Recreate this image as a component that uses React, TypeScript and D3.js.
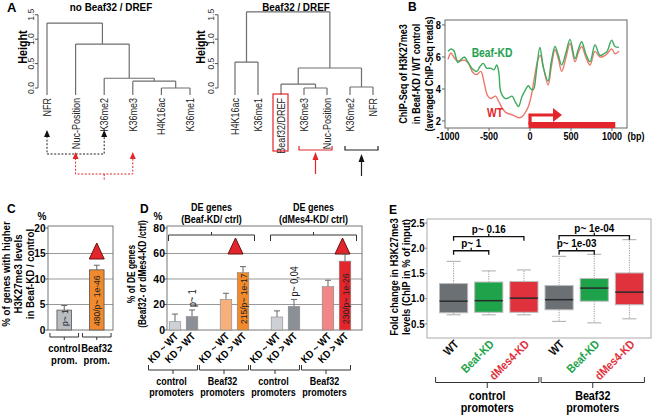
import React from "react";
import * as d3 from "d3";

const FONT = "'Liberation Sans', Arial, Helvetica, sans-serif";

// ---------------- Panel A: dendrograms ----------------
type TreeNode = { h: number; children: (TreeNode | string)[] };

const noBeafLeaves = ["NFR", "Nuc-Position", "K36me2", "K36me3", "H4K16ac", "K36me1"];
const noBeafTree: TreeNode = {
  h: 1.33,
  children: ["NFR", { h: 0.9, children: ["Nuc-Position", { h: 0.2, children: ["K36me2", { h: 0.14, children: ["K36me3", { h: 0.0, children: ["H4K16ac", "K36me1"] }] }] }] }],
};
const beafLeaves = ["H4K16ac", "K36me1", "Beaf32/DREF", "K36me3", "Nuc-Position", "K36me2", "NFR"];
const beafTree: TreeNode = {
  h: 1.56,
  children: [
    { h: 0.53, children: ["H4K16ac", "K36me1"] },
    {
      h: 0.41,
      children: [
        { h: 0.08, children: ["Beaf32/DREF", { h: 0.0, children: ["K36me3", "Nuc-Position"] }] },
        { h: 0.02, children: ["K36me2", "NFR"] },
      ],
    },
  ],
};
const heightTicks = [0, 0.5, 1.0, 1.5];

// ---------------- Panel B: profiles ----------------
const kdPos = [-1000, -965, -930, -880, -840, -800, -760, -710, -650, -610, -570, -530, -480, -440, -405, -380, -355, -300, -260, -220, -180, -140, -100, -60, -20, 10, 40, 80, 120, 165, 220, 260, 305, 345, 386, 440, 488, 549, 590, 630, 680, 732, 793, 854, 900, 940, 996, 1037, 1085];
const kdVal = [6.35, 6.5, 6.4, 5.65, 5.85, 6.0, 5.7, 5.3, 5.1, 5.4, 5.6, 5.3, 5.3, 5.2, 5.5, 5.0, 3.8, 3.4, 3.45, 3.55, 3.2, 2.9, 3.5, 3.9, 4.2, 4.0, 3.95, 5.2, 6.6, 5.3, 4.5, 5.7, 6.65, 6.1, 5.5, 6.3, 7.1, 5.9, 6.5, 6.95, 6.2, 5.7, 6.75, 6.1, 6.2, 6.35, 7.05, 6.65, 6.6];
const wtPos = [-1000, -965, -930, -900, -860, -800, -750, -700, -650, -600, -560, -520, -480, -420, -380, -340, -300, -260, -200, -140, -100, -60, -20, 20, 60, 100, 125, 165, 220, 260, 305, 345, 386, 440, 488, 549, 590, 630, 680, 732, 793, 854, 900, 940, 996, 1037, 1085];
const wtVal = [5.85, 6.25, 6.0, 5.8, 5.75, 5.8, 5.6, 5.05, 4.9, 5.1, 4.4, 3.6, 3.4, 3.55, 3.2, 2.8, 2.55, 2.45, 2.35, 2.2, 2.25, 2.5, 2.9, 3.7, 4.9, 5.9, 6.1, 5.3, 4.25, 5.4, 6.45, 5.9, 5.1, 6.0, 6.85, 5.7, 6.3, 6.65, 6.0, 5.5, 6.35, 6.0, 6.05, 6.2, 6.5, 6.2, 6.35];
const bXTicks = [-1000, -500, 0, 500, 1000];
const bYTicks = [2, 4, 6, 8];
const bYLabel = ["ChIP-Seq of H3K27me3", "in Beaf-KD / WT control", "(averaged ChIP-Seq reads)"];

// ---------------- Panel C ----------------
const cCategories = ["control", "Beaf32"];
const cLabel2 = ["prom.", "prom."];
const cValues = [3.9, 11.8];
const cErrTop = [4.8, 12.7];
const cInBar = ["p~ 1", "480/p~ 1e-46"];
const cTicks = [0, 5, 10, 15, 20];
const cYLabel = ["% of genes with higher", "H3K27me3 levels", "in Beaf-KD / control"];

// ---------------- Panel D ----------------
const dGroups = ["ctrlBeaf", "beafBeaf", "ctrlMes", "beafMes"];
const dGroupTop = ["control", "Beaf32", "control", "Beaf32"];
const dGroupBottom = ["promoters", "promoters", "promoters", "promoters"];
const dSub = ["KD ~ WT", "KD > WT"];
const dValues = [[6.5, 10.5], [24.0, 45.0], [10.2, 18.5], [34.0, 54.0]];
const dErrTop = [[12.5, 15.7], [28.8, 49.7], [15.0, 24.0], [39.0, 59.5]];
const dInBar = [["", ""], ["", "215/p~ 1e-17"], ["", ""], ["", "230/p~ 1e-26"]];
const dAbove = [["", "p~ 1"], ["", ""], ["", "p~ 0,04"], ["", ""]];
const dTicks = [0, 20, 40, 60, 80];
const dHeader1 = ["DE genes", "DE genes"];
const dHeader2 = ["(Beaf-KD/ ctrl)", "(dMes4-KD/ ctrl)"];
const dYLabel = ["% of DE genes", "(Beaf32- or dMes4-KD /ctrl)"];

// ---------------- Panel E ----------------
const eCats = ["WT", "Beaf-KD", "dMes4-KD", "WT", "Beaf-KD", "dMes4-KD"];
const eLow = [0.68, 0.68, 0.68, 0.55, 0.52, 0.6];
const eQ1 = [0.72, 0.73, 0.73, 0.78, 0.95, 0.88];
const eMed = [0.95, 0.96, 1.01, 0.98, 1.21, 1.13];
const eQ3 = [1.3, 1.33, 1.34, 1.26, 1.4, 1.51];
const eHigh = [1.74, 1.55, 1.57, 1.84, 1.88, 2.17];
const eTicks = [0.5, 1.0, 1.5, 2.0, 2.5];
const ePairA = [0, 0, 3, 3];
const ePairB = [1, 2, 4, 5];
const ePairH = [1.95, 2.23, 1.95, 2.25];
const ePairText = ["p~ 1", "p~ 0.16", "p~ 1e-03", "p~ 1e-04"];
const eGroupTop = ["control", "Beaf32"];
const eGroupBottom = ["promoters", "promoters"];
const eYLabel = ["Fold change in H3K27me3", "levels (ChIP in % of input)"];

// ---------- styles ----------
const LINE = "#6e6e6e";
const GREEN = "#22a24e";
const RED = "#e3262b";
const dColors = [["#cdd0d4", "#8a9096"], ["#f6b07c", "#f08a2c"], ["#cdd0d4", "#8a9096"], ["#f08686", "#e3262b"]];
const eColors = ["#6b7075", "#1ea34b", "#e0323c", "#6b7075", "#1ea34b", "#e0323c"];
const eTextColors = ["#111", "#1ea34b", "#e0323c", "#111", "#1ea34b", "#e0323c"];

// condensed text helper (the figure uses a narrow sans font)
function T({ x, y, r = 0, sx = 0.86, children, ...rest }: any) {
  return (
    <text transform={`translate(${x},${y}) rotate(${r}) scale(${sx},1)`} {...rest}>
      {children}
    </text>
  );
}

function dendroPath(tree: TreeNode, xs: (s: string) => number, ys: (v: number) => number, leafBottom: number) {
  const segs: string[] = [];
  function walk(n: TreeNode | string): { x: number; y: number } {
    if (typeof n === "string") return { x: xs(n), y: leafBottom };
    const kids = n.children.map(walk);
    const y = ys(n.h);
    const kx = kids.map((k) => k.x);
    segs.push(`M${d3.min(kx)},${y}H${d3.max(kx)}`);
    kids.forEach((k) => segs.push(`M${k.x},${y}V${k.y}`));
    return { x: (kx[0] + kx[kx.length - 1]) / 2, y };
  }
  walk(tree);
  return segs.join("");
}

function upTri(x: number, yTip: number, w: number, h: number) {
  return `M${x},${yTip}L${x + w / 2},${yTip + h}L${x - w / 2},${yTip + h}Z`;
}

function Dendrogram({ tree, leaves, xr, axisX, title, titleX, heightX }: any) {
  const ys = d3.scaleLinear().domain([0, 1.7]).range([88, 5]);
  const xs = d3.scalePoint<string>().domain(leaves).range(xr);
  const leafBottom = 95;
  return (
    <g>
      <T x={titleX} y={11} textAnchor="middle" fontWeight="bold" fontSize={11.5}>{title}</T>
      <path d={`M${axisX},${ys(0)}V${ys(1.5)}`} stroke="#555" fill="none" />
      {heightTicks.map((t) => (
        <g key={t}>
          <line x1={axisX - 3} x2={axisX} y1={ys(t)} y2={ys(t)} stroke="#555" />
          <T x={axisX - 4} y={ys(t)} r={-90} sx={0.95} textAnchor="middle" fontSize={9} fill="#333">{t.toFixed(1)}</T>
        </g>
      ))}
      <T x={heightX} y={47} r={-90} textAnchor="middle" fontWeight="bold" fontSize={12.5}>Height</T>
      <path d={dendroPath(tree, (s) => xs(s) as number, ys, leafBottom)} stroke={LINE} strokeWidth={1.2} fill="none" />
      {leaves.map((l: string) => (
        <T key={l} x={(xs(l) as number) + 4} y={98} r={-90} textAnchor="end" fontSize={10.5} fill="#222">{l}</T>
      ))}
    </g>
  );
}

export default function App() {
  // ---- Panel A scales (for annotations)
  const xsL = d3.scalePoint<string>().domain(noBeafLeaves).range([47, 190]);
  const xsR = d3.scalePoint<string>().domain(beafLeaves).range([235, 373]);
  const xL = (s: string) => xsL(s) as number;
  const xR = (s: string) => xsR(s) as number;

  // ---- Panel B scales
  const xB = d3.scaleLinear().domain([-1037, 1183]).range([445, 627]);
  const yB = d3.scaleLinear().domain([1.56, 8.31]).range([128, 20]);
  const lineB = d3
    .line<[number, number]>()
    .x((d) => xB(d[0]))
    .y((d) => yB(d[1]))
    .curve(d3.curveCatmullRom.alpha(0.5));
  const kdPts = kdPos.map((p, i) => [p, kdVal[i]] as [number, number]);
  const wtPts = wtPos.map((p, i) => [p, wtVal[i]] as [number, number]);

  // ---- Panel C scales
  const xC = d3.scaleBand<string>().domain(cCategories).range([48, 113]).paddingInner(0.55).paddingOuter(0.275);
  const yC = d3.scaleLinear().domain([0, 20]).range([330, 228]);

  // ---- Panel D scales
  const xD0 = d3.scaleBand<string>().domain(dGroups).range([158, 362]);
  const xD1 = d3.scaleBand<string>().domain(dSub).range([-14.3, 14.3]).paddingInner(0.32);
  const yD = d3.scaleLinear().domain([0, 80]).range([330, 228]);
  const dc = (g: string) => (xD0(g) as number) + xD0.bandwidth() / 2;

  // ---- Panel E scales
  const eIdx = eCats.map((_, i) => String(i));
  const xE = d3.scaleBand<string>().domain(eIdx).range([436, 647]).paddingInner(0.2).paddingOuter(0.1);
  const yE = d3.scaleLinear().domain([0.22, 2.58]).range([338, 219]);
  const ec = (i: number) => (xE(String(i)) as number) + xE.bandwidth() / 2;

  const bold = "bold";

  return (
    <div style={{ position: "absolute", left: 0, top: 0 }}>
      <svg width={654} height={415} fontFamily={FONT} style={{ display: "block", background: "#fff" }}>
        <rect width={654} height={415} fill="#fff" />
        {/* ================= A ================= */}
        <text x={7} y={12} fontWeight={bold} fontSize={13}>A</text>
        <Dendrogram tree={noBeafTree} leaves={noBeafLeaves} xr={[47, 190]} axisX={38} title="no Beaf32 / DREF" titleX={111} heightX={27} />
        <Dendrogram tree={beafTree} leaves={beafLeaves} xr={[235, 373]} axisX={218} title="Beaf32 / DREF" titleX={296} heightX={205} />
        {/* left dendrogram arrows */}
        <path d={`M${xL("NFR")},${136}V${154}H${xL("K36me2")}V${136}`} stroke="#222" strokeDasharray="2,1.6" fill="none" strokeWidth={1} />
        <path d={upTri(xL("NFR"), 130, 6, 7)} fill="#111" />
        <path d={upTri(xL("K36me2"), 130, 6, 7)} fill="#111" />
        <path d={`M${xL("Nuc-Position")},${158}V${174}H${xL("K36me3")}V${158}M${(xL("Nuc-Position") + xL("K36me3")) / 2},174V180`} stroke={RED} strokeDasharray="2,1.6" fill="none" strokeWidth={1} />
        <path d={upTri(xL("Nuc-Position"), 152, 6, 7)} fill={RED} />
        <path d={upTri(xL("K36me3"), 152, 6, 7)} fill={RED} />
        {/* right dendrogram annotations */}
        <rect x={xR("Beaf32/DREF") - 8} y={94} width={15} height={57} fill="none" stroke={RED} strokeWidth={1.2} />
        <path d={`M${xR("K36me3") - 5},146V150H${xR("Nuc-Position") + 5}V146`} stroke={RED} fill="none" strokeWidth={1.2} />
        <path d={`M${(xR("K36me3") + xR("Nuc-Position")) / 2},174V159`} stroke={RED} strokeWidth={1.2} />
        <path d={upTri((xR("K36me3") + xR("Nuc-Position")) / 2, 152, 6, 8)} fill={RED} />
        <path d={`M${xR("K36me2") - 5},146V150H${xR("NFR") + 5}V146`} stroke="#222" fill="none" strokeWidth={1.2} />
        <path d={`M${(xR("K36me2") + xR("NFR")) / 2},176V160`} stroke="#222" strokeWidth={1.2} />
        <path d={upTri((xR("K36me2") + xR("NFR")) / 2, 154, 6, 8)} fill="#111" />

        {/* ================= B ================= */}
        <text x={408} y={11} fontWeight={bold} fontSize={12}>B</text>
        {bYLabel.map((t, i) => (
          <T key={t} x={406.5 + i * 13} y={74} r={-90} textAnchor="middle" fontWeight={bold} fontSize={10.5}>{t}</T>
        ))}
        <rect x={445} y={20} width={182} height={108} fill="none" stroke="#666" />
        {bYTicks.map((t) => (
          <g key={t}>
            <line x1={442} x2={445} y1={yB(t)} y2={yB(t)} stroke="#666" />
            <T x={441} y={yB(t)} sx={0.85} dy="0.35em" textAnchor="end" fontWeight={bold} fontSize={11}>{t}</T>
          </g>
        ))}
        {bXTicks.map((t) => (
          <g key={t}>
            <line x1={xB(t)} x2={xB(t)} y1={128} y2={131} stroke="#666" />
            <T x={xB(t)} y={140} sx={0.82} textAnchor="middle" fontWeight={bold} fontSize={11}>{t}</T>
          </g>
        ))}
        <T x={636} y={140} sx={0.82} textAnchor="middle" fontWeight={bold} fontSize={11}>(bp)</T>
        <path d={lineB(wtPts) || ""} fill="none" stroke="#ec7a6c" strokeWidth={1.4} />
        <path d={lineB(kdPts) || ""} fill="none" stroke="#3bab5e" strokeWidth={1.4} />
        <T x={492} y={57} textAnchor="middle" fontWeight={bold} fontSize={12} fill={GREEN}>Beaf-KD</T>
        <T x={495} y={117} textAnchor="middle" fontWeight={bold} fontSize={12} fill={RED}>WT</T>
        {/* TSS arrow */}
        <path d={`M${xB(0)},${125}V${115}H${xB(280)}`} stroke={RED} strokeWidth={3.2} fill="none" />
        <path d={`M${xB(280)},${108}L${xB(390)},${115}L${xB(280)},${122}Z`} fill={RED} />
        <rect x={xB(0) - 1.5} y={122} width={xB(1040) - xB(0) + 1.5} height={6} fill={RED} />

        {/* ================= C ================= */}
        <text x={7} y={213} fontWeight={bold} fontSize={12}>C</text>
        <text x={42} y={220} textAnchor="middle" fontWeight={bold} fontSize={10}>%</text>
        {cYLabel.map((t, i) => (
          <T key={t} x={10 + i * 12} y={274} r={-90} sx={0.88} textAnchor="middle" fontWeight={bold} fontSize={11}>{t}</T>
        ))}
        {cTicks.slice(1, 4).map((t) => (
          <line key={t} x1={48} x2={113} y1={yC(t)} y2={yC(t)} stroke="#999" />
        ))}
        <rect x={48} y={226} width={65} height={104} fill="none" stroke="#777" />
        {cTicks.map((t) => (
          <g key={t}>
            <line x1={45.5} x2={48} y1={yC(t)} y2={yC(t)} stroke="#666" />
            <T x={45.5} y={yC(t)} sx={0.92} dy="0.35em" textAnchor="end" fontWeight={bold} fontSize={11}>{t}</T>
          </g>
        ))}
        {cCategories.map((c, i) => {
          const x = xC(c) as number;
          const w = xC.bandwidth();
          const cx = x + w / 2;
          return (
            <g key={c}>
              <line x1={cx} x2={cx} y1={yC(cValues[i])} y2={yC(cErrTop[i])} stroke="#666" />
              <line x1={cx - 3} x2={cx + 3} y1={yC(cErrTop[i])} y2={yC(cErrTop[i])} stroke="#666" />
              <rect x={x} y={yC(cValues[i])} width={w} height={yC(0) - yC(cValues[i])} fill={i === 0 ? "#b9bdc2" : "#f08a2c"} stroke="#555" strokeWidth={0.8} />
              <T x={cx + 3.5} y={326} r={-90} sx={0.9} fontSize={9.5} fill="#222">{cInBar[i]}</T>
              <path d={`M${x - 7},333V337H${x + w + 7}V333M${cx},337V340`} stroke="#333" fill="none" />
              <T x={cx} y={352} textAnchor="middle" fontWeight={bold} fontSize={11}>{c}</T>
              <T x={cx} y={364} textAnchor="middle" fontWeight={bold} fontSize={11}>{cLabel2[i]}</T>
            </g>
          );
        })}
        <path d={upTri((xC("Beaf32") as number) + xC.bandwidth() / 2, 243, 15, 16)} fill={RED} stroke="#6b0f0f" strokeWidth={1} />

        {/* ================= D ================= */}
        <text x={140} y={213} fontWeight={bold} fontSize={12}>D</text>
        <text x={158} y={220} textAnchor="middle" fontWeight={bold} fontSize={10}>%</text>
        {dYLabel.map((t, i) => (
          <T key={t} x={135 + i * 11} y={274} r={-90} sx={0.8} textAnchor="middle" fontWeight={bold} fontSize={10.5}>{t}</T>
        ))}
        {dTicks.slice(1, 4).map((t) => (
          <line key={t} x1={167} x2={362} y1={yD(t)} y2={yD(t)} stroke="#999" />
        ))}
        <rect x={167} y={226} width={195} height={104} fill="none" stroke="#777" />
        {dTicks.map((t) => (
          <g key={t}>
            <line x1={164} x2={167} y1={yD(t)} y2={yD(t)} stroke="#666" />
            <T x={165} y={yD(t)} sx={0.95} dy="0.35em" textAnchor="end" fontWeight={bold} fontSize={11}>{t}</T>
          </g>
        ))}
        {[0, 1].map((k) => {
          const l = dc(dGroups[2 * k]) - 15;
          const r = dc(dGroups[2 * k + 1]) + 20;
          const m = (l + r) / 2;
          return (
            <g key={k}>
              <T x={m} y={211} textAnchor="middle" fontWeight={bold} fontSize={10.5}>{dHeader1[k]}</T>
              <T x={m} y={223} textAnchor="middle" fontWeight={bold} fontSize={10.5}>{dHeader2[k]}</T>
              <path d={`M${l},241V235H${r}V241M${m},235V232`} stroke="#333" fill="none" />
              <path d={upTri(dc(dGroups[2 * k + 1]) + (k === 0 ? 1 : 6), 238, 15, 16)} fill={RED} stroke="#6b0f0f" strokeWidth={1} />
            </g>
          );
        })}
        {dGroups.map((g, gi) => {
          const gc = dc(g);
          return (
            <g key={g}>
              {dSub.map((s, si) => {
                const x = gc + (xD1(s) as number);
                const w = xD1.bandwidth();
                const cx = x + w / 2;
                const v = dValues[gi][si];
                const e = dErrTop[gi][si];
                return (
                  <g key={s}>
                    <line x1={cx} x2={cx} y1={yD(v)} y2={yD(e)} stroke="#666" />
                    <line x1={cx - 3} x2={cx + 3} y1={yD(e)} y2={yD(e)} stroke="#666" />
                    <rect x={x} y={yD(v)} width={w} height={yD(0) - yD(v)} fill={dColors[gi][si]} stroke="#888" strokeWidth={0.6} />
                    {dInBar[gi][si] && (
                      <T x={cx + 3.5} y={324} r={-90} sx={0.9} fontSize={9.5} fill="#222">{dInBar[gi][si]}</T>
                    )}
                    {dAbove[gi][si] && (
                      <T x={cx + 3.5} y={yD(e) - 3} r={-90} sx={0.9} fontSize={10} fill="#222">{dAbove[gi][si]}</T>
                    )}
                    <T x={cx + 4} y={337} r={-45} sx={0.87} textAnchor="end" fontWeight={bold} fontSize={10.5}>{s}</T>
                  </g>
                );
              })}
              <path d={`M${gc - 35},365V370H${gc + 14}V365M${gc - 10.5},370V374`} stroke="#333" fill="none" />
              <T x={gc - 12} y={385} sx={0.78} textAnchor="middle" fontWeight={bold} fontSize={11.5}>{dGroupTop[gi]}</T>
              <T x={gc - 12} y={396} sx={0.78} textAnchor="middle" fontWeight={bold} fontSize={11.5}>{dGroupBottom[gi]}</T>
            </g>
          );
        })}

        {/* ================= E ================= */}
        <text x={389} y={214} fontWeight={bold} fontSize={12}>E</text>
        {eYLabel.map((t, i) => (
          <T key={t} x={397.5 + i * 12.5} y={277} r={-90} textAnchor="middle" fontWeight={bold} fontSize={11}>{t}</T>
        ))}
        <rect x={427} y={219} width={224} height={119} fill="none" stroke="#aaa" />
        {eTicks.map((t) => (
          <g key={t}>
            <line x1={424.5} x2={427} y1={yE(t)} y2={yE(t)} stroke="#888" />
            <T x={424.5} y={yE(t)} sx={0.92} dy="0.35em" textAnchor="end" fontWeight={bold} fontSize={10.5}>{t.toFixed(1)}</T>
          </g>
        ))}
        {eCats.map((c, i) => {
          const x = xE(String(i)) as number;
          const w = xE.bandwidth();
          const cx = ec(i);
          return (
            <g key={i}>
              <path d={`M${cx},${yE(eQ3[i])}V${yE(eHigh[i])}M${cx},${yE(eQ1[i])}V${yE(eLow[i])}`} stroke="#999" strokeDasharray="1.2,1.2" fill="none" />
              <path d={`M${cx - 7},${yE(eHigh[i])}H${cx + 7}M${cx - 7},${yE(eLow[i])}H${cx + 7}`} stroke="#aaa" fill="none" />
              <rect x={x} y={yE(eQ3[i])} width={w} height={yE(eQ1[i]) - yE(eQ3[i])} fill={eColors[i]} stroke="#bbb" strokeWidth={1} />
              <line x1={x} x2={x + w} y1={yE(eMed[i])} y2={yE(eMed[i])} stroke="#2a2a2a" strokeWidth={1.5} />
              <T x={cx + 6} y={345} r={-45} textAnchor="end" fontWeight={bold} fontSize={12} fill={eTextColors[i]}>{c}</T>
            </g>
          );
        })}
        {ePairA.map((a, k) => {
          const xa = ec(a);
          const xb = ec(ePairB[k]);
          const y = yE(ePairH[k]);
          const m = (xa + xb) / 2;
          return (
            <g key={k}>
              <path d={`M${xa},${y + 4}V${y}H${xb}V${y + 4}M${m},${y}V${y - 3}`} stroke="#111" strokeWidth={1.3} fill="none" />
              <T x={m} y={y - 4} textAnchor="middle" fontWeight={bold} fontSize={11.5}>{ePairText[k]}</T>
            </g>
          );
        })}
        {[0, 1].map((k) => {
          const l = ec(3 * k) - 18;
          const r = ec(3 * k + 2) + 15;
          const m = (l + r) / 2;
          return (
            <g key={k}>
              <path d={`M${l},377V382.5H${r}V377M${m},382.5V388`} stroke="#333" fill="none" />
              <T x={m} y={400} textAnchor="middle" fontWeight={bold} fontSize={12.5}>{eGroupTop[k]}</T>
              <T x={m} y={412} textAnchor="middle" fontWeight={bold} fontSize={12.5}>{eGroupBottom[k]}</T>
            </g>
          );
        })}
      </svg>
    </div>
  );
}
